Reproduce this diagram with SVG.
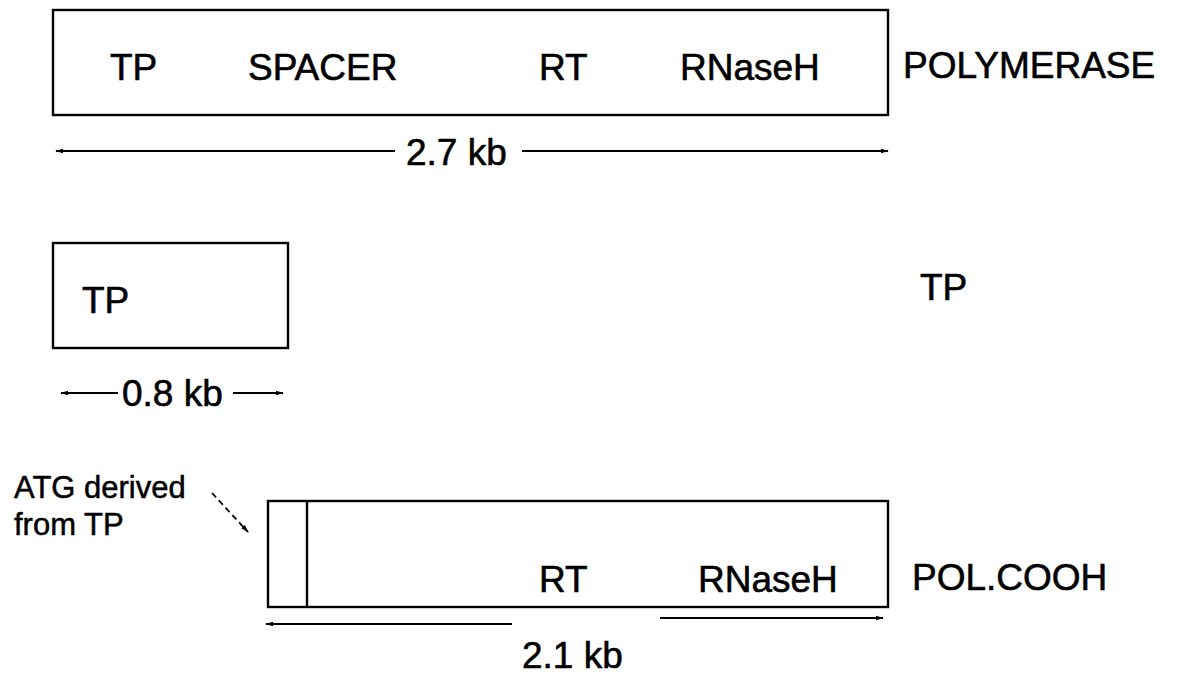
<svg xmlns="http://www.w3.org/2000/svg" width="1177" height="684" viewBox="0 0 1177 684">
<defs>
<style>
.box{fill:none;stroke:#000;stroke-width:2.4}
.ln{fill:none;stroke:#000;stroke-width:1.8}
.t{font-family:"Liberation Sans",Arial,sans-serif;font-size:37px;fill:#000;stroke:#000;stroke-width:0.6}
.s{font-family:"Liberation Sans",Arial,sans-serif;font-size:31px;fill:#000;stroke:#000;stroke-width:0.5}
</style>
<marker id="ah" viewBox="0 0 10 10" refX="9" refY="5" markerWidth="8" markerHeight="8" orient="auto-start-reverse" markerUnits="userSpaceOnUse"><path d="M0,2 L10,5 L0,8 z" fill="#000"/></marker>
</defs>
<rect width="1177" height="684" fill="#fff"/>
<g id="polymerase">
<rect class="box" x="53" y="10" width="835" height="105"/>
<text class="t" x="110" y="80">TP</text>
<text class="t" x="248" y="80">SPACER</text>
<text class="t" x="539" y="80">RT</text>
<text class="t" x="680" y="80">RNaseH</text>
<text class="t" x="903" y="78">POLYMERASE</text>
</g>
<g id="tp">
<rect class="box" x="53" y="243" width="235" height="105"/>
<text class="t" x="82" y="313">TP</text>
<text class="t" x="920" y="300">TP</text>
</g>
<g id="polcooh">
<rect class="box" x="268" y="501" width="620" height="106"/>
<line class="box" x1="307" y1="501" x2="307" y2="607"/>
<text class="t" x="539" y="592">RT</text>
<text class="t" x="698" y="592">RNaseH</text>
<text class="t" x="912" y="590">POL.COOH</text>
<text class="s" x="14" y="498">ATG derived</text>
<text class="s" x="14" y="535">from TP</text>
</g>
<g id="connectors">
<line class="ln" x1="395" y1="151" x2="56" y2="151" marker-end="url(#ah)"/>
<line class="ln" x1="522" y1="151" x2="888" y2="151" marker-end="url(#ah)"/>
<text class="t" x="406" y="165">2.7 kb</text>
<line class="ln" x1="118" y1="393" x2="61" y2="393" marker-end="url(#ah)"/>
<line class="ln" x1="233" y1="393" x2="283" y2="393" marker-end="url(#ah)"/>
<text class="t" x="122" y="406">0.8 kb</text>
<line class="ln" x1="512" y1="624" x2="266" y2="624" marker-end="url(#ah)"/>
<line class="ln" x1="660" y1="618" x2="883" y2="618" marker-end="url(#ah)"/>
<text class="t" x="522" y="668">2.1 kb</text>
<line class="ln" x1="212" y1="493" x2="248" y2="532" stroke-dasharray="6,4" marker-end="url(#ah)"/>
</g>
</svg>
